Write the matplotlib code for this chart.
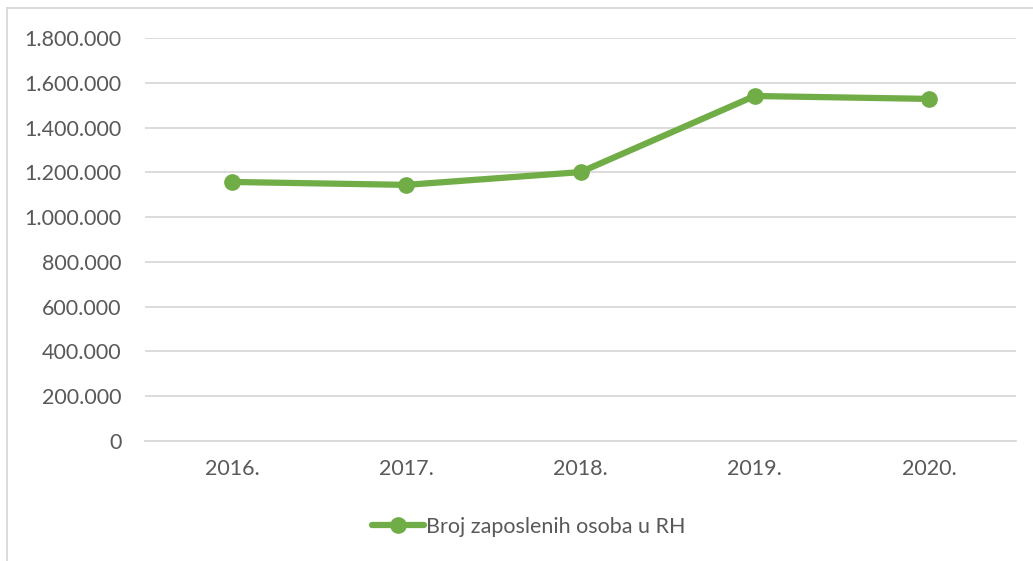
import matplotlib
matplotlib.use('Agg')
import matplotlib.pyplot as plt
from matplotlib.lines import Line2D
from matplotlib.ticker import FuncFormatter

years = ['2016.', '2017.', '2018.', '2019.', '2020.']
employed = [1157000, 1144000, 1201000, 1541000, 1528000]
y_ticks = list(range(0, 1800001, 200000))
series_label = 'Broj zaposlenih osoba u RH'

green = '#70AD47'
text_col = '#595959'
grid_col = '#D9D9D9'

plt.rcParams['font.family'] = ['Lato', 'DejaVu Sans']

fig = plt.figure(figsize=(10.33, 5.61), dpi=100)
ax = fig.add_axes([145 / 1033, 1 - 441 / 561, 871 / 1033, 403 / 561])

x = list(range(len(years)))
ax.plot(x, employed, color=green, linewidth=4.5, marker='o', markersize=11,
        solid_capstyle='round', label=series_label, zorder=3)

ax.set_xlim(-0.5, len(years) - 0.5)
ax.set_ylim(0, 1800000)
ax.set_yticks(y_ticks)
ax.yaxis.set_major_formatter(FuncFormatter(lambda v, p: f'{int(v):,}'.replace(',', '.')))
ax.set_xticks(x)
ax.set_xticklabels(years)
ax.grid(axis='y', color=grid_col, linewidth=1.3)
ax.set_axisbelow(True)
for s in ['top', 'right', 'left']:
    ax.spines[s].set_visible(False)
ax.spines['bottom'].set_color(grid_col)
ax.spines['bottom'].set_linewidth(1.3)
ax.tick_params(axis='both', length=0, labelsize=15.5, colors=text_col)
ax.tick_params(axis='y', pad=17)
ax.tick_params(axis='x', pad=13)

leg = fig.legend(loc='center', bbox_to_anchor=(529 / 1033, 1 - 527 / 561), frameon=False,
                 fontsize=15.5, handlelength=2.4, handletextpad=0.1)
for t in leg.get_texts():
    t.set_color(text_col)

# chart border (partially cropped in the original)
fig.add_artist(Line2D([7 / 1033, 7 / 1033], [0, 1 - 8 / 561], color=grid_col, linewidth=1.3,
                      transform=fig.transFigure))
fig.add_artist(Line2D([7 / 1033, 1], [1 - 8 / 561, 1 - 8 / 561], color=grid_col, linewidth=1.3,
                      transform=fig.transFigure))

fig.savefig('out.png', dpi=100)
